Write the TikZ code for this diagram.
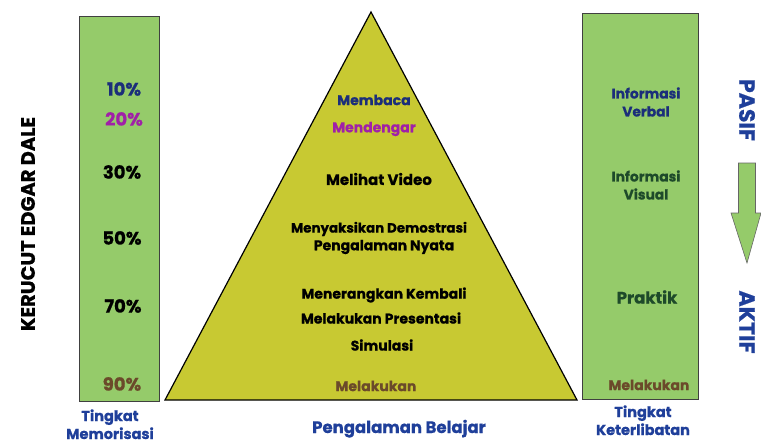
\documentclass[tikz,border=0pt]{standalone}
\usepackage{fontspec}
\setmainfont{Poppins}[BoldFont={Poppins Bold},BoldFeatures={FakeBold=0.8}]
\definecolor{boxgreen}{HTML}{95CB6A}
\definecolor{tri}{HTML}{C8C932}
\definecolor{navy}{HTML}{1B2E7A}
\definecolor{lblue}{HTML}{1F3F9A}
\definecolor{purp}{HTML}{A020A8}
\definecolor{brown}{HTML}{6B4A2A}
\definecolor{dgreen}{HTML}{1E4A2A}
\newcommand{\fs}[1]{\bfseries\fontsize{#1}{#1}\selectfont}
\tikzset{
  lbl/.style={font=\fs{14}, inner sep=0pt, align=center},
  pct/.style={font=\fs{18}, inner sep=0pt},
  side/.style={font=\fs{14.5}, inner sep=0pt, anchor=base, text=lblue},
  big/.style={font=\fs{22}, inner sep=0pt, text=lblue},
  gbox/.style={draw=black!75, line width=0.8pt, fill=boxgreen},
}
\begin{document}
\begin{tikzpicture}[x=1pt,y=-1pt]
\useasboundingbox (0,0) rectangle (761,444);
% boxes
\draw[gbox] (79,16) rectangle (159,401);
\draw[gbox] (582,13) rectangle (698,399);
% triangle
\draw[fill=tri, line width=1.2pt, line join=miter] (165,400) -- (371,12) -- (577,400) -- cycle;
% left percentages
\node[pct, text=navy] (p10) at (124,89) {10\%};
\node[pct, text=purp] (p20) at (124,119) {20\%};
\node[pct, text=black] (p30) at (122,172) {30\%};
\node[pct, text=black] (p50) at (122,238) {50\%};
\node[pct, text=black] (p70) at (123,306) {70\%};
\node[pct, text=brown] (p90) at (122,384) {90\%};
\node[big, text=black, font=\fs{19.5}, rotate=90] (title) at (28,224) {KERUCUT EDGAR DALE};
\node[side] (tm1) at (110,421) {Tingkat};
\node[side] (tm2) at (110,439) {Memorisasi};
% triangle labels
\node[lbl, text=navy] (t1) at (374,100) {Membaca};
\node[lbl, text=purp] (t2) at (374,129) {Mendengar};
\node[lbl, font=\fs{15}] (t3) at (379,179) {Melihat Video};
\node[lbl, font=\fs{13.4}] (t4) at (379,229) {Menyaksikan Demostrasi};
\node[lbl] (t5) at (384,247) {Pengalaman Nyata};
\node[lbl] (t6) at (384,295) {Menerangkan Kembali};
\node[lbl] (t7) at (381,318) {Melakukan Presentasi};
\node[lbl] (t8) at (382,345) {Simulasi};
\node[lbl, text=brown] (t9) at (376,386) {Melakukan};
\node[side, font=\fs{16.5}] (pb) at (399,433) {Pengalaman Belajar};
% right labels
\node[lbl, text=navy, font=\bfseries\fontsize{13.8}{18}\selectfont] (r1) at (646,102) {Informasi\\Verbal};
\node[lbl, text=dgreen, font=\bfseries\fontsize{13.8}{18}\selectfont] (r2) at (646,185) {Informasi\\Visual};
\node[lbl, text=dgreen, font=\fs{16.5}] (r3) at (647,297) {Praktik};
\node[lbl, text=brown] (r4) at (649,385) {Melakukan};
\node[side] (tk1) at (643,417) {Tingkat};
\node[side] (tk2) at (643,435) {Keterlibatan};
% pasif/aktif
\node[big, rotate=-90] (pasif) at (747,110) {PASIF};
\node[big, rotate=-90] (aktif) at (747,322) {AKTIF};
\draw[draw=black!60, fill=boxgreen, line width=0.6pt, line join=miter]
  (738.5,163) -- (755.5,163) -- (755.5,213) -- (761,213) -- (747,263) -- (731,213) -- (738.5,213) -- cycle;
\end{tikzpicture}
\end{document}
